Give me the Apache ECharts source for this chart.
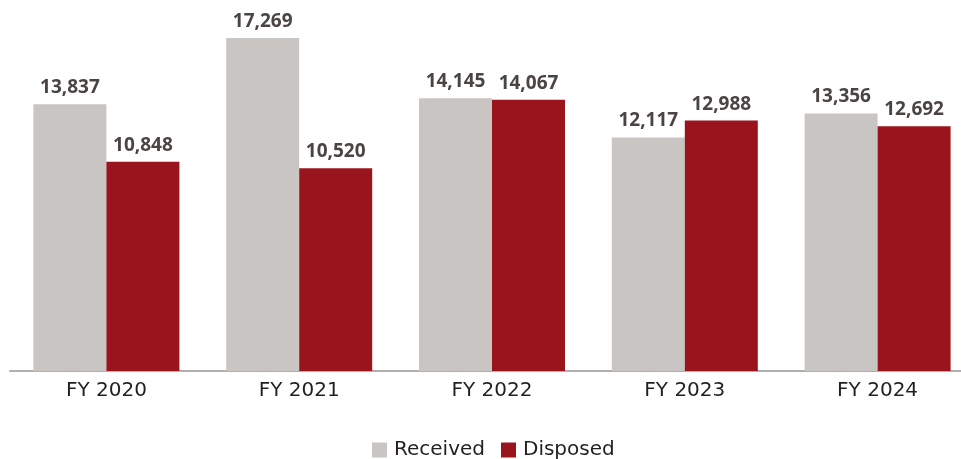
<!DOCTYPE html>
<html><head><meta charset="utf-8">
<script src="https://cdn.jsdelivr.net/npm/echarts@6/dist/echarts.min.js"></script>
<style>html,body{margin:0;padding:0;background:#fff}#c{width:961px;height:459px}</style>
</head><body><div id="c"></div>
<script>
const categories = ['FY 2020', 'FY 2021', 'FY 2022', 'FY 2023', 'FY 2024'];
const received = [13837, 17269, 14145, 12117, 13356];
const disposed = [10848, 10520, 14067, 12988, 12692];
const seriesNames = ['Received', 'Disposed'];

const chart = echarts.init(document.getElementById('c'));
const labelStyle = {
  show: true, position: 'top', distance: 7,
  color: '#4a4443', fontFamily: 'Open Sans', fontWeight: 'bold', fontSize: 19,
  formatter: p => p.value.toLocaleString('en-US')
};
chart.setOption({
  animation: false,
  grid: { left: 10, width: 964, top: 24, height: 347, containLabel: false, outerBoundsMode: 'none' },
  legend: {
    top: 435, left: 367, itemWidth: 15, itemHeight: 15, itemGap: 16,
    icon: 'rect',
    textStyle: { color: '#231f20', fontFamily: 'DejaVu Sans', fontSize: 20, padding: [0, 0, 0, 2] },
    data: seriesNames
  },
  xAxis: {
    type: 'category', data: categories,
    axisLine: { lineStyle: { color: '#b3afac', width: 2 } },
    axisTick: { show: false },
    axisLabel: { color: '#231f20', fontFamily: 'DejaVu Sans', fontSize: 20, margin: 10 }
  },
  yAxis: { type: 'value', min: 0, max: 18000, show: false, splitLine: { show: false } },
  series: [
    { name: seriesNames[0], type: 'bar', data: received, barWidth: 73, barGap: '0%',
      itemStyle: { color: '#c9c5c2' }, label: labelStyle },
    { name: seriesNames[1], type: 'bar', data: disposed, barWidth: 73, barGap: '0%',
      itemStyle: { color: '#9a141d' }, label: labelStyle }
  ]
});
</script></body></html>
